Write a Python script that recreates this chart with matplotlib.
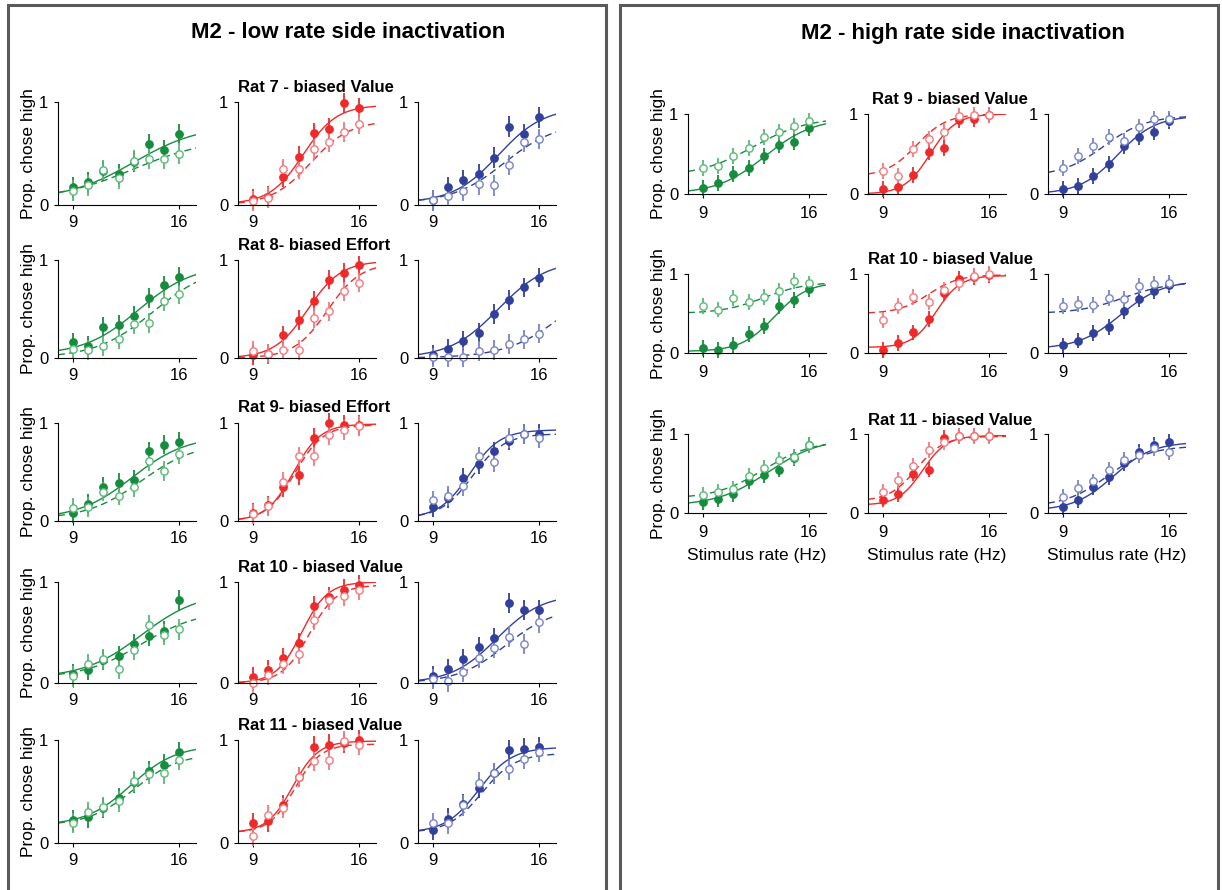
import numpy as np
import matplotlib
matplotlib.use("Agg")
import matplotlib.pyplot as plt
from matplotlib.patches import Rectangle

plt.rcParams['font.family'] = ['Liberation Sans', 'DejaVu Sans']

# ===== data
rates = [9, 10, 11, 12, 13, 14, 15, 16]
xticks = [9, 16]
ERR = 0.1

left_title = "M2 - low rate side inactivation"
right_title = "M2 - high rate side inactivation"
left_rats = ["Rat 7 - biased Value", "Rat 8- biased Effort", "Rat 9- biased Effort",
             "Rat 10 - biased Value", "Rat 11 - biased Value"]
right_rats = ["Rat 9 - biased Value", "Rat 10 - biased Value", "Rat 11 - biased Value"]

# per row: [green, red, blue]; ctrl = filled, inact = open
L7_ctrl = [[0.17, 0.22, 0.33, 0.30, 0.42, 0.59, 0.53, 0.69],
           [0.055, 0.08, 0.27, 0.47, 0.70, 0.74, 0.99, 0.94],
           [0.045, 0.175, 0.24, 0.30, 0.46, 0.76, 0.69, 0.85]]
L7_inact = [[0.14, 0.19, 0.34, 0.26, 0.43, 0.45, 0.45, 0.50],
            [0.04, 0.07, 0.35, 0.35, 0.54, 0.61, 0.71, 0.79],
            [0.045, 0.09, 0.14, 0.20, 0.19, 0.39, 0.61, 0.64]]
L8_ctrl = [[0.16, 0.125, 0.315, 0.34, 0.43, 0.61, 0.74, 0.83],
           [0.03, 0.04, 0.23, 0.39, 0.58, 0.80, 0.87, 0.945],
           [0.03, 0.095, 0.175, 0.26, 0.45, 0.59, 0.72, 0.82]]
L8_inact = [[0.095, 0.08, 0.125, 0.19, 0.35, 0.36, 0.58, 0.65],
            [0.075, 0.045, 0.085, 0.08, 0.41, 0.475, 0.68, 0.77],
            [0.007, 0.01, 0.01, 0.07, 0.08, 0.145, 0.19, 0.25]]
L9_ctrl = [[0.08, 0.175, 0.35, 0.39, 0.42, 0.71, 0.78, 0.81],
           [0.08, 0.16, 0.35, 0.465, 0.85, 1.0, 0.98, 0.98],
           [0.145, 0.23, 0.44, 0.58, 0.71, 0.82, 0.89, 0.89]]
L9_inact = [[0.13, 0.14, 0.30, 0.26, 0.35, 0.61, 0.51, 0.68],
            [0.07, 0.15, 0.40, 0.66, 0.66, 0.88, 0.93, 0.97],
            [0.21, 0.255, 0.36, 0.66, 0.60, 0.85, 0.89, 0.85]]
L10_ctrl = [[0.09, 0.125, 0.23, 0.27, 0.39, 0.47, 0.51, 0.82],
            [0.055, 0.125, 0.25, 0.40, 0.765, 0.855, 0.925, 0.97],
            [0.065, 0.135, 0.235, 0.36, 0.445, 0.79, 0.725, 0.725]]
L10_inact = [[0.065, 0.19, 0.24, 0.135, 0.33, 0.57, 0.48, 0.53],
             [0.0, 0.08, 0.19, 0.29, 0.62, 0.82, 0.865, 0.925],
             [0.04, 0.015, 0.105, 0.25, 0.345, 0.46, 0.39, 0.60]]
L11_ctrl = [[0.22, 0.25, 0.34, 0.435, 0.59, 0.70, 0.76, 0.88],
            [0.195, 0.21, 0.37, 0.64, 0.935, 0.955, 0.97, 1.0],
            [0.13, 0.235, 0.38, 0.535, 0.675, 0.90, 0.915, 0.93]]
L11_inact = [[0.195, 0.30, 0.35, 0.405, 0.60, 0.67, 0.675, 0.805],
             [0.07, 0.27, 0.34, 0.64, 0.795, 0.81, 0.99, 0.955],
             [0.195, 0.19, 0.365, 0.585, 0.675, 0.715, 0.82, 0.885]]

R9_ctrl = [[0.07, 0.133, 0.25, 0.32, 0.48, 0.61, 0.65, 0.82],
           [0.067, 0.09, 0.24, 0.52, 0.57, 0.93, 0.94, 0.99],
           [0.0625, 0.104, 0.22, 0.375, 0.60, 0.71, 0.78, 0.91]]
R9_inact = [[0.33, 0.355, 0.47, 0.57, 0.71, 0.775, 0.845, 0.915],
            [0.29, 0.23, 0.56, 0.69, 0.78, 0.98, 0.99, 0.99],
            [0.325, 0.47, 0.595, 0.71, 0.66, 0.84, 0.94, 0.94]]
R10_ctrl = [[0.0625, 0.033, 0.104, 0.24, 0.345, 0.595, 0.667, 0.81],
            [0.04, 0.125, 0.26, 0.43, 0.755, 0.94, 0.96, 0.99],
            [0.096, 0.158, 0.25, 0.333, 0.533, 0.68, 0.78, 0.855]]
R10_inact = [[0.595, 0.55, 0.70, 0.65, 0.71, 0.78, 0.915, 0.88],
             [0.415, 0.595, 0.71, 0.65, 0.80, 0.88, 0.98, 1.0],
             [0.595, 0.617, 0.608, 0.70, 0.68, 0.846, 0.875, 0.888]]
R11_ctrl = [[0.133, 0.175, 0.24, 0.40, 0.475, 0.55, 0.70, 0.86],
            [0.17, 0.24, 0.50, 0.55, 0.95, 0.97, 0.98, 0.98],
            [0.08, 0.16, 0.33, 0.45, 0.63, 0.77, 0.86, 0.90]]
R11_inact = [[0.23, 0.27, 0.30, 0.47, 0.575, 0.675, 0.71, 0.86],
             [0.27, 0.42, 0.60, 0.80, 0.90, 0.97, 0.97, 0.97],
             [0.20, 0.32, 0.40, 0.54, 0.67, 0.73, 0.82, 0.77]]

# psychometric fits (lower, upper, midpoint Hz, width Hz), [green, red, blue]
L7_fit_ctrl = [(0.05, 0.78, 13.0, 2.2), (0.01, 0.97, 12.3, 1.1), (0.02, 0.95, 13.3, 1.5)]
L7_fit_inact = [(0.05, 0.65, 13.0, 2.5), (0.0, 0.82, 12.8, 1.3), (0.02, 0.80, 13.7, 1.7)]
L8_fit_ctrl = [(0.03, 0.95, 13.3, 1.8), (0.0, 0.99, 12.6, 1.1), (0.0, 1.0, 13.3, 1.6)]
L8_fit_inact = [(0.0, 0.95, 14.3, 1.9), (0.0, 0.97, 13.9, 1.1), (0.0, 0.9, 17.7, 1.9)]
L9_fit_ctrl = [(0.02, 0.87, 12.9, 1.8), (0.0, 0.99, 11.65, 0.9), (0.03, 0.93, 11.4, 1.0)]
L9_fit_inact = [(0.02, 0.80, 13.5, 1.8), (0.0, 0.98, 11.75, 0.95), (0.03, 0.89, 11.6, 1.05)]
L10_fit_ctrl = [(0.05, 0.9, 13.5, 1.9), (0.0, 1.0, 12.2, 0.85), (0.0, 0.88, 13.2, 1.5)]
L10_fit_inact = [(0.05, 0.72, 13.5, 1.9), (0.0, 0.97, 12.7, 0.9), (0.0, 0.75, 13.8, 1.6)]
L11_fit_ctrl = [(0.17, 0.95, 12.8, 1.5), (0.1, 0.99, 11.6, 0.85), (0.1, 0.93, 12.0, 1.1)]
L11_fit_inact = [(0.17, 0.87, 13.0, 1.5), (0.1, 0.96, 11.75, 0.85), (0.1, 0.87, 12.2, 1.1)]

R9_fit_ctrl = [(0.0, 0.95, 13.1, 1.6), (0.0, 1.0, 12.1, 0.85), (0.0, 0.98, 12.6, 1.25)]
R9_fit_inact = [(0.22, 0.96, 12.3, 1.8), (0.22, 1.0, 11.2, 1.0), (0.22, 0.98, 11.7, 1.4)]
R10_fit_ctrl = [(0.02, 0.9, 13.7, 1.1), (0.07, 0.98, 12.5, 0.8), (0.05, 0.92, 12.8, 1.4)]
R10_fit_inact = [(0.5, 0.9, 13.0, 1.4), (0.5, 0.99, 12.0, 1.0), (0.5, 0.9, 13.0, 1.5)]
R11_fit_ctrl = [(0.09, 0.95, 13.3, 1.7), (0.1, 0.98, 11.6, 0.8), (0.03, 0.9, 12.3, 1.3)]
R11_fit_inact = [(0.18, 0.92, 13.0, 1.6), (0.15, 0.97, 11.2, 0.9), (0.08, 0.85, 11.9, 1.4)]

# ===== style
colors = ['#178c3f', '#ee2a2a', '#31409b']
light = ['#5bb877', '#f27a7e', '#7884c6']
XLIM = (8.0, 17.1)
W, H = 1222, 890


def logistic(x, lo, hi, x0, s):
    return lo + (hi - lo) / (1 + np.exp(-(x - x0) / s))


def px_axes(fig, left, top, right, bottom):
    return fig.add_axes([left / W, 1 - bottom / H, (right - left) / W, (bottom - top) / H])


def panel(ax, k, ctrl, inact, fit_c, fit_i, xpad=4):
    xs = np.linspace(XLIM[0], XLIM[1], 200)
    ax.plot(xs, logistic(xs, *fit_i), color=colors[k], lw=1.0, ls=(0, (5, 3)))
    ax.plot(xs, logistic(xs, *fit_c), color=colors[k], lw=1.0)
    ax.errorbar(rates, ctrl, yerr=ERR, fmt='o', ms=5.3, mfc=colors[k], mec=colors[k],
                ecolor=colors[k], elinewidth=1.3, capsize=0, clip_on=False)
    ax.errorbar(rates, inact, yerr=ERR, fmt='o', ms=5.3, mfc='white', mec=light[k],
                mew=1.0, ecolor=light[k], elinewidth=1.3, capsize=0, clip_on=False)
    ax.set_xlim(*XLIM)
    ax.set_ylim(0, 1)
    ax.set_xticks(xticks)
    ax.set_yticks([0, 1])
    ax.set_yticklabels(['0', '1'])
    for sp in ['top', 'right']:
        ax.spines[sp].set_visible(False)
    for sp in ['left', 'bottom']:
        ax.spines[sp].set_linewidth(0.8)
    ax.tick_params(direction='out', length=3, width=0.8, labelsize=12, pad=4)
    ax.tick_params(axis='x', pad=xpad)


fig = plt.figure(figsize=(12.22, 8.90), dpi=100)

# boxes
for x0, x1 in [(8, 606), (620, 1218)]:
    fig.patches.append(Rectangle((x0 / W, -0.05), (x1 - x0) / W, 1 - 5 / H + 0.05,
                                 transform=fig.transFigure, fill=False,
                                 edgecolor='#5a5a5a', lw=2.2))

fig.text(348 / W, 1 - 33 / H, left_title, ha='center', va='center',
         fontsize=16, fontweight='bold')
fig.text(963 / W, 1 - 33 / H, right_title, ha='center', va='center',
         fontsize=16, fontweight='bold')

left_rows = [(102, 205), (260, 358), (423, 521), (582, 683), (740, 843)]
left_cols = [58, 238, 418]
left_data = [(L7_ctrl, L7_inact, L7_fit_ctrl, L7_fit_inact),
             (L8_ctrl, L8_inact, L8_fit_ctrl, L8_fit_inact),
             (L9_ctrl, L9_inact, L9_fit_ctrl, L9_fit_inact),
             (L10_ctrl, L10_inact, L10_fit_ctrl, L10_fit_inact),
             (L11_ctrl, L11_inact, L11_fit_ctrl, L11_fit_inact)]

right_rows = [(114, 194), (274, 353), (434, 513)]
right_cols = [688, 868, 1048]
right_data = [(R9_ctrl, R9_inact, R9_fit_ctrl, R9_fit_inact),
              (R10_ctrl, R10_inact, R10_fit_ctrl, R10_fit_inact),
              (R11_ctrl, R11_inact, R11_fit_ctrl, R11_fit_inact)]

for r, (top, bot) in enumerate(left_rows):
    ctrl, inact, fc, fi = left_data[r]
    for k, lft in enumerate(left_cols):
        ax = px_axes(fig, lft, top, lft + 138, bot)
        panel(ax, k, ctrl[k], inact[k], fc[k], fi[k])
        if k == 0:
            ax.set_ylabel('Prop. chose high', fontsize=12.5, labelpad=2)
    fig.text(238 / W, 1 - (top - 15) / H, left_rats[r], ha='left', va='center',
             fontsize=12, fontweight='bold')

for r, (top, bot) in enumerate(right_rows):
    ctrl, inact, fc, fi = right_data[r]
    for k, lft in enumerate(right_cols):
        ax = px_axes(fig, lft, top, lft + 138, bot)
        panel(ax, k, ctrl[k], inact[k], fc[k], fi[k], xpad=5.5)
        if k == 0:
            ax.set_ylabel('Prop. chose high', fontsize=12.5, labelpad=2)
        if r == len(right_rows) - 1:
            ax.set_xlabel('Stimulus rate (Hz)', fontsize=12.5, labelpad=6)
    fig.text(950 / W, 1 - (top - 14) / H, right_rats[r], ha='center', va='center',
             fontsize=12, fontweight='bold')

fig.savefig('out.png', dpi=100)
